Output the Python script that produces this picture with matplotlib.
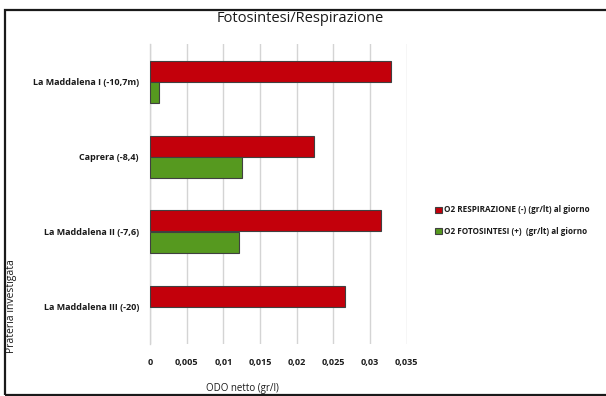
import matplotlib
matplotlib.use("Agg")
import matplotlib.pyplot as plt
from matplotlib.patches import Rectangle
import numpy as np

categories = ["La Maddalena I (-10,7m)", "Caprera (-8,4)",
              "La Maddalena II (-7,6)", "La Maddalena III (-20)"]
respirazione = [0.0329, 0.0224, 0.03145, 0.02655]
fotosintesi = [0.0012, 0.01255, 0.0121, 0.0]
series_names = ["O2 RESPIRAZIONE (-) (gr/lt) al giorno",
                "O2 FOTOSINTESI (+)  (gr/lt) al giorno"]
xticks = [0, 0.005, 0.01, 0.015, 0.02, 0.025, 0.03, 0.035]
xtick_labels = ["0", "0,005", "0,01", "0,015", "0,02", "0,025", "0,03", "0,035"]

W, H = 606, 396
fig = plt.figure(figsize=(W / 100, H / 100), dpi=100)
fig.patch.set_facecolor("white")

# outer frame of the chart object
fig.patches.append(Rectangle((5 / W, 1.5 / H), 1.2, (H - 11.5) / H,
                             transform=fig.transFigure, fill=False,
                             edgecolor="#1a1a1a", linewidth=1.6))

left, right, top, bottom = 150, 406.7, 44, 344
ax = fig.add_axes([left / W, 1 - bottom / H, (right - left) / W, (bottom - top) / H])

red = "#C3000B"
green = "#56991F"
edge = "#404040"
bh = 0.28
y = np.arange(len(categories))


def edges(values):
    # empty bars get no outline
    return [edge if v > 0 else "none" for v in values]


ax.barh(y - bh / 2, respirazione, height=bh, color=red, edgecolor=edges(respirazione),
        linewidth=0.8, label=series_names[0], zorder=3)
ax.barh(y + bh / 2, fotosintesi, height=bh, color=green, edgecolor=edges(fotosintesi),
        linewidth=0.8, label=series_names[1], zorder=3)

ax.set_xlim(0, 0.035)
ax.set_ylim(len(categories) - 0.5, -0.5)
ax.set_xticks(xticks)
ax.set_xticklabels(xtick_labels)
ax.set_yticks(y)
ax.set_yticklabels(categories)
ax.tick_params(axis="both", length=0, labelsize=6.5)
ax.tick_params(axis="x", pad=10)
ax.tick_params(axis="y", pad=8)
for lbl in ax.get_xticklabels() + ax.get_yticklabels():
    lbl.set_fontweight("bold")
    lbl.set_color("#1a1a1a")
    lbl.set_family("Open Sans")

ax.grid(axis="x", color="#d4d4d4", linewidth=1.0, zorder=0)
for s in ["top", "right", "bottom"]:
    ax.spines[s].set_visible(False)
ax.spines["left"].set_color("#d4d4d4")
ax.spines["left"].set_linewidth(1.0)

fig.text(300 / W, 1 - 19 / H, "Fotosintesi/Respirazione", ha="center",
         va="center", fontsize=10.5, family="Open Sans", color="#1a1a1a")
fig.text(242 / W, 1 - 389 / H, "ODO netto (gr/l)", ha="center", va="center",
         fontsize=7, family="Open Sans", color="#1a1a1a")
fig.text(12 / W, 1 - 306 / H, "Prateria investigata", ha="center", va="center",
         rotation=90, fontsize=7.5, family="Open Sans", color="#1a1a1a")

leg = fig.legend(loc="upper left", bbox_to_anchor=(433 / W, 1 - 203 / H),
                 frameon=False, handlelength=0.75,
                 handleheight=0.75, handletextpad=0.35, labelspacing=1.55,
                 borderaxespad=0, borderpad=0.3,
                 prop={"family": "Open Sans", "weight": "bold", "size": 5.9})
for t in leg.get_texts():
    t.set_color("#1a1a1a")

fig.savefig("out.png", dpi=100)
